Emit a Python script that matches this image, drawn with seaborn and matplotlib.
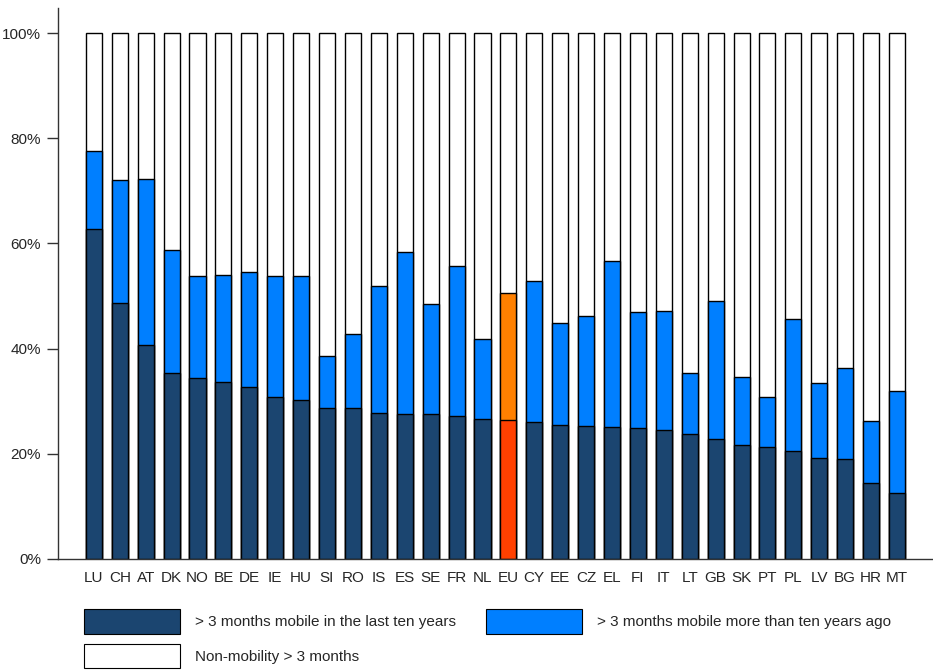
import matplotlib
matplotlib.use("Agg")
import matplotlib.pyplot as plt
import matplotlib.patches as mpatches
import seaborn as sns
import pandas as pd

countries = ["LU", "CH", "AT", "DK", "NO", "BE", "DE", "IE", "HU", "SI", "RO", "IS",
             "ES", "SE", "FR", "NL", "EU", "CY", "EE", "CZ", "EL", "FI", "IT", "LT",
             "GB", "SK", "PT", "PL", "LV", "BG", "HR", "MT"]
# share mobile > 3 months in the last ten years (%)
recent = [62.8, 48.7, 40.7, 35.3, 34.4, 33.6, 32.6, 30.7, 30.3, 28.6, 28.6, 27.7,
          27.5, 27.5, 27.2, 26.6, 26.4, 26.1, 25.5, 25.3, 25.1, 24.9, 24.5, 23.7,
          22.7, 21.6, 21.3, 20.5, 19.2, 18.9, 14.5, 12.6]
# share mobile > 3 months more than ten years ago (%)
older = [14.8, 23.3, 31.6, 23.5, 19.5, 20.4, 22.0, 23.1, 23.5, 9.9, 14.2, 24.2,
         30.9, 20.9, 28.5, 15.2, 24.1, 26.8, 19.3, 20.9, 31.6, 22.0, 22.6, 11.7,
         26.3, 12.9, 9.5, 25.2, 14.3, 17.4, 11.8, 19.3]
total = [100] * len(countries)

labels = ["> 3 months mobile in the last ten years",
          "> 3 months mobile more than ten years ago",
          "Non-mobility > 3 months"]

c_dark, c_blue, c_white = "#1B4570", "#007FFF", "#FFFFFF"
c_eu_dark, c_eu_blue = "#FF4000", "#FF8000"

df = pd.DataFrame({"country": countries, "recent": recent, "older": older, "total": total})
df["cum_older"] = df["recent"] + df["older"]

sns.set_style("white")
plt.rcParams["font.family"] = ["Liberation Sans", "DejaVu Sans"]

fig = plt.figure(figsize=(9.33, 6.70), dpi=100)
ax = fig.add_axes([0.062, 0.166, 0.938, 0.822])

bar_kw = dict(order=countries, width=0.62, edgecolor="black", linewidth=1.0,
              legend=False, saturation=1, ax=ax)
pal_blue = {c: (c_eu_blue if c == "EU" else c_blue) for c in countries}
pal_dark = {c: (c_eu_dark if c == "EU" else c_dark) for c in countries}

# stacked look: draw cumulative layers from the back to the front
sns.barplot(data=df, x="country", y="total", hue="country",
            palette={c: c_white for c in countries}, **bar_kw)
sns.barplot(data=df, x="country", y="cum_older", hue="country", palette=pal_blue, **bar_kw)
sns.barplot(data=df, x="country", y="recent", hue="country", palette=pal_dark, **bar_kw)

ax.set_xlim(-1.39, len(countries) - 1 + 1.39)
ax.set_ylim(0, 104.8)
ax.set_yticks([0, 20, 40, 60, 80, 100])
ax.set_yticklabels([f"{v}%" for v in [0, 20, 40, 60, 80, 100]])
ax.set_xlabel("")
ax.set_ylabel("")

for side in ["top", "right"]:
    ax.spines[side].set_visible(False)
for side in ["left", "bottom"]:
    ax.spines[side].set_color("#333333")
    ax.spines[side].set_linewidth(1.0)

ax.tick_params(axis="y", direction="out", length=8, width=1, color="#333333",
               labelsize=11, pad=4, left=True)
ax.tick_params(axis="x", length=0, labelsize=11, pad=9)

handles = [mpatches.Patch(facecolor=c_dark, edgecolor="black", linewidth=0.8, label=labels[0]),
           mpatches.Patch(facecolor=c_white, edgecolor="black", linewidth=0.8, label=labels[2]),
           mpatches.Patch(facecolor=c_blue, edgecolor="black", linewidth=0.8, label=labels[1])]
fig.legend(handles=handles, loc="upper left", bbox_to_anchor=(0.090, 0.091),
           ncol=2, frameon=False, fontsize=11, handlelength=6.28, handleheight=2.1,
           handletextpad=0.98, columnspacing=1.96, labelspacing=0.65, borderpad=0,
           borderaxespad=0)

fig.savefig("out.png", dpi=100)
